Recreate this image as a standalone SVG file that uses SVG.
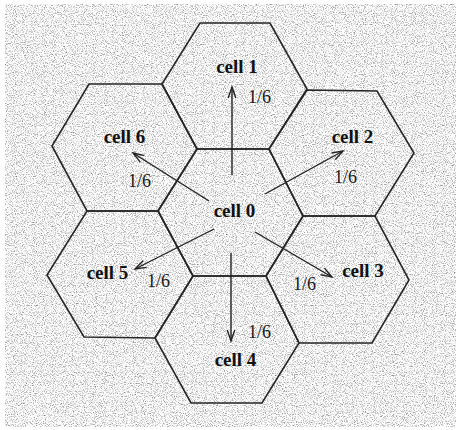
<svg xmlns="http://www.w3.org/2000/svg" width="456" height="430" viewBox="0 0 456 430">
  <style>
    .hex { fill: none; stroke: #262626; stroke-width: 1.6; stroke-linejoin: miter; }
    .lbl { font-family: "Liberation Serif", "Times New Roman", serif; font-weight: bold; font-size: 19px; fill: #111; text-anchor: middle; }
    .prob { font-family: "Liberation Serif", "Times New Roman", serif; font-size: 18px; fill: #1a1a1a; }
    .arr { stroke: #222; stroke-width: 1.4; fill: none; marker-end: url(#head); }
  </style>
  <defs>
    <filter id="grain" x="0" y="0" width="100%" height="100%" color-interpolation-filters="sRGB">
      <feTurbulence type="fractalNoise" baseFrequency="0.9" numOctaves="2" seed="7" result="n"/>
      <feColorMatrix in="n" type="matrix" values="1.2 0 0 0 0.35  1.2 0 0 0 0.35  1.2 0 0 0 0.35  0 0 0 0 1"/>
    </filter>
    <marker id="head" viewBox="-12 -6 14 12" markerWidth="14" markerHeight="12" refX="0" refY="0" orient="auto" markerUnits="userSpaceOnUse">
      <path d="M-11,-3.8 L0,0 L-11,3.8" fill="none" stroke="#222" stroke-width="1.4"/>
    </marker>
  </defs>

  <rect x="0" y="0" width="456" height="430" fill="#ffffff"/>
  <rect x="5" y="4" width="451" height="423" filter="url(#grain)"/>

  <g id="cell1">
    <polygon class="hex" points="200,23 270,23 307,89 269,149 197,149 162,84"/>
    <text class="lbl" x="237" y="73">cell 1</text>
  </g>
  <g id="cell6">
    <polygon class="hex" points="89,84 162,84 197,149 158,211 87,211 52,146"/>
    <text class="lbl" x="124.5" y="143">cell 6</text>
  </g>
  <g id="cell2">
    <polygon class="hex" points="307,90 377,91 414,153 375,216 303,216 269,149"/>
    <text class="lbl" x="352.5" y="143">cell 2</text>
  </g>
  <g id="cell0">
    <polygon class="hex" points="197,149 269,149 303,216 266,276 193,276 158,211"/>
    <text class="lbl" x="234.5" y="217">cell 0</text>
  </g>
  <g id="cell5">
    <polygon class="hex" points="87,211 158,211 193,276 155,338 84,337 47,275"/>
    <text class="lbl" x="107.5" y="279">cell 5</text>
  </g>
  <g id="cell3">
    <polygon class="hex" points="303,216 375,216 409,280 372,343 299,343 266,276"/>
    <text class="lbl" x="363" y="277">cell 3</text>
  </g>
  <g id="cell4">
    <polygon class="hex" points="193,276 266,276 299,343 262,403 191,403 155,338"/>
    <text class="lbl" x="235.5" y="366">cell 4</text>
  </g>

  <g id="connectors">
    <line class="arr" x1="232" y1="175" x2="232" y2="87"/>
    <line class="arr" x1="231" y1="253" x2="231" y2="341"/>
    <line class="arr" x1="209" y1="201" x2="133" y2="153"/>
    <line class="arr" x1="265" y1="194" x2="343" y2="151"/>
    <line class="arr" x1="214" y1="229" x2="135" y2="269"/>
    <line class="arr" x1="255" y1="232" x2="332" y2="277"/>
    <text class="prob" x="248" y="103">1/6</text>
    <text class="prob" x="128" y="187">1/6</text>
    <text class="prob" x="334" y="183">1/6</text>
    <text class="prob" x="147" y="287">1/6</text>
    <text class="prob" x="293" y="290">1/6</text>
    <text class="prob" x="248" y="338">1/6</text>
  </g>
</svg>
